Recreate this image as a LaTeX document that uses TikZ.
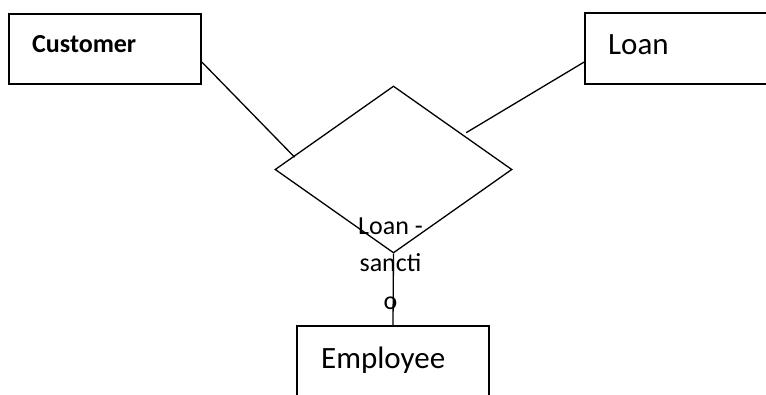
\documentclass[tikz,border=0pt]{standalone}
\usepackage{fontspec}
\setmainfont{Carlito}
\usetikzlibrary{shapes.geometric,calc}
\begin{document}
\begin{tikzpicture}[x=1pt,y=-1pt,
  entity/.style={draw,line width=1.6pt,rectangle,inner sep=0pt},
  relation/.style={draw,line width=1.3pt,diamond,inner sep=0pt,minimum width=237pt,minimum height=167pt},
  link/.style={line width=1.3pt},
  bigtext/.style={font=\fontsize{31pt}{37pt}\selectfont,inner sep=0pt},
  smalltext/.style={font=\fontsize{26pt}{37.5pt}\selectfont,inner sep=0pt}]
  \useasboundingbox (0,0) rectangle (766,394);
  \clip (0,0) rectangle (766,394);
  % entity boxes
  \node[entity,minimum width=192pt,minimum height=70pt] (cust) at (105,49) {};
  \node[entity,minimum width=200pt,minimum height=71pt] (loan) at (685,48.5) {};
  \node[entity,minimum width=192pt,minimum height=100pt] (emp) at (393,376) {};
  % relationship diamond
  \node[relation] (rel) at (393.5,169.5) {};
  % labels
  \node[smalltext,anchor=base west,font=\fontsize{26pt}{30pt}\selectfont\bfseries] (custlbl) at (32,52) {Customer};
  \node[bigtext,anchor=base west] (loanlbl) at (608,54) {Loan};
  \node[bigtext,anchor=base west] (emplbl) at (321,368) {Employee};
  \node[smalltext,anchor=base,align=center] (rellbl) at (390.5,309) {Loan -\\sancti\\o};
  % connectors
  \coordinate (c1) at ($(rel.west)!0.17!(rel.north)$);
  \coordinate (c2) at ($(rel.north)!0.61!(rel.east)$);
  \draw[link] ([yshift=-13pt]cust.east) -- ([yshift=-2pt]c1);
  \draw[link] ([yshift=-13.5pt]loan.west) -- ([yshift=4pt]c2);
  \draw[link] (rel.south) -- (emp.north);
\end{tikzpicture}
\end{document}
